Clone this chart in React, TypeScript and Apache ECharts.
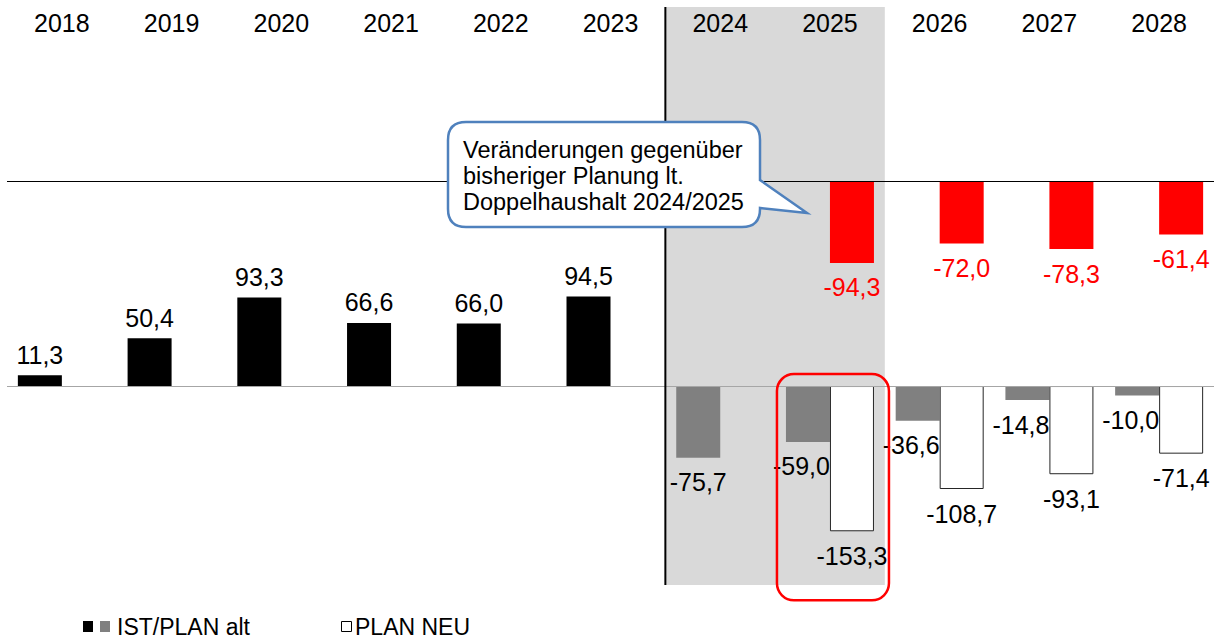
import React, { useEffect, useRef } from "react";
import * as echarts from "echarts";

const years = ["2018", "2019", "2020", "2021", "2022", "2023", "2024", "2025", "2026", "2027", "2028"];
const istPlanAlt = [11.3, 50.4, 93.3, 66.6, 66.0, 94.5, -75.7, -59.0, -36.6, -14.8, -10.0];
const planNeu: (number | null)[] = [null, null, null, null, null, null, null, -153.3, -108.7, -93.1, -71.4];
const veraenderung: (number | null)[] = [null, null, null, null, null, null, null, -94.3, -72.0, -78.3, -61.4];
const firstPlanYear = 6; // index of 2024 (start of planning / shaded period)

const calloutLines = ["Veränderungen gegenüber", "bisheriger Planung lt.", "Doppelhaushalt 2024/2025"];
const legendAlt = "IST/PLAN alt";
const legendNeu = "PLAN NEU";

const FONT = "'Liberation Sans', Arial, sans-serif";
const LABEL_SIZE = 25;
const fmt = (v: number) => v.toFixed(1).replace(".", ",");

const Y0_MIN = -210, Y0_MAX = 400;
const Y1_MIN = -466, Y1_MAX = 201;

const calloutPath =
  "M466,122 H742 Q760,122 760,140 V180 L807,213 L760,208 V209 Q760,227 742,227 H466 Q448,227 448,209 V140 Q448,122 466,122 Z";
echarts.graphic.registerShape("callout", echarts.graphic.extendPath(calloutPath, {}) as any);

export default function App() {
  const ref = useRef<HTMLDivElement>(null);
  useEffect(() => {
    if (!ref.current) return;
    const chart = echarts.init(ref.current, null, { renderer: "svg" });

    const altData = istPlanAlt.map((v, i) => {
      const isPlan = i >= firstPlanYear;
      const hasNeu = planNeu[i] != null;
      return {
        value: v,
        itemStyle: { color: isPlan ? "#808080" : "#000000" },
        label: isPlan
          ? hasNeu
            ? { position: "bottom", distance: 12, align: "right", offset: [22, 0] }
            : { position: "bottom", distance: 12 }
          : { position: "top", distance: 8 },
      };
    });

    const option: any = {
      animation: false,
      textStyle: { fontFamily: FONT },
      grid: { left: 7, right: 6, top: 7, bottom: 54, containLabel: false },
      xAxis: [
        {
          type: "category",
          data: years,
          position: "top",
          axisLine: { show: false },
          axisTick: { show: false },
          axisLabel: { inside: true, margin: 3, color: "#000", fontSize: 25, fontWeight: "normal", fontFamily: FONT },
          splitLine: { show: false },
        },
        { type: "category", data: years, position: "bottom", show: false },
      ],
      yAxis: [
        { type: "value", min: Y0_MIN, max: Y0_MAX, show: false, splitLine: { show: false } },
        { type: "value", min: Y1_MIN, max: Y1_MAX, show: false, splitLine: { show: false } },
      ],
      series: [
        {
          name: legendAlt,
          type: "bar",
          xAxisIndex: 0,
          yAxisIndex: 0,
          barWidth: 44,
          barGap: "0%",
          data: altData,
          label: { show: true, color: "#000", fontSize: LABEL_SIZE, fontFamily: FONT, formatter: (p: any) => fmt(p.value) },
          markLine: {
            silent: true,
            symbol: ["none", "none"],
            label: { show: false },
            lineStyle: { color: "#a6a6a6", width: 1, type: "solid" },
            data: [{ yAxis: 0 }],
          },
        },
        {
          name: legendNeu,
          type: "bar",
          xAxisIndex: 0,
          yAxisIndex: 0,
          barWidth: 44,
          barGap: "0%",
          data: planNeu.map((v) => (v == null ? "-" : v)),
          itemStyle: { color: "#ffffff", borderColor: "#262626", borderWidth: 1 },
          label: {
            show: true,
            position: "bottom",
            distance: 12,
            color: "#000",
            fontSize: LABEL_SIZE,
            fontFamily: FONT,
            formatter: (p: any) => fmt(p.value),
          },
        },
        {
          name: "slot",
          type: "bar",
          xAxisIndex: 1,
          yAxisIndex: 1,
          barWidth: 44,
          barGap: "0%",
          data: years.map(() => "-"),
        },
        {
          name: "Veränderung",
          type: "bar",
          xAxisIndex: 1,
          yAxisIndex: 1,
          barWidth: 44,
          barGap: "0%",
          data: veraenderung.map((v) => (v == null ? "-" : v)),
          itemStyle: { color: "#ff0000" },
          label: {
            show: true,
            position: "bottom",
            distance: 12,
            color: "#ff0000",
            fontSize: LABEL_SIZE,
            fontFamily: FONT,
            formatter: (p: any) => fmt(p.value),
          },
          markLine: {
            silent: true,
            symbol: ["none", "none"],
            label: { show: false },
            lineStyle: { color: "#000000", width: 1, type: "solid" },
            data: [{ yAxis: 0 }],
          },
        },
      ],
    };
    chart.setOption(option);

    const cx = (c: string) => chart.convertToPixel({ xAxisIndex: 0 }, c) as number;
    const cy = (v: number) => chart.convertToPixel({ yAxisIndex: 0 }, v) as number;
    const xA = cx(years[firstPlanYear]);
    const xB = cx(years[firstPlanYear + 1]);
    const bw = xB - xA;
    const shadeLeft = xA - bw / 2;
    const shadeRight = xB + bw / 2;
    const yTop = cy(Y0_MAX);
    const yBot = cy(Y0_MIN);
    const yZero = cy(0);
    const yNeu25 = cy(planNeu[firstPlanYear + 1] as number);

    chart.setOption({
      graphic: [
        {
          type: "rect",
          z: -1,
          shape: { x: shadeLeft, y: yTop, width: shadeRight - shadeLeft, height: yBot - yTop },
          style: { fill: "#d9d9d9" },
          silent: true,
        },
        {
          type: "line",
          z: 50,
          shape: { x1: shadeLeft, y1: yTop, x2: shadeLeft, y2: yBot },
          style: { stroke: "#000", lineWidth: 2 },
          silent: true,
        },
        {
          type: "rect",
          z: 100,
          shape: { x: xB - 53, y: yZero - 12, width: 112, height: yNeu25 + 69 - (yZero - 12), r: 17 },
          style: { fill: "none", stroke: "#ff0000", lineWidth: 2.5 },
          silent: true,
        },
        {
          type: "callout",
          z: 100,
          x: 0,
          y: 0,
          scaleX: 1,
          scaleY: 1,
          style: { fill: "#ffffff", stroke: "#4f81bd", lineWidth: 2.5 },
          silent: true,
        },
        {
          type: "text",
          z: 101,
          x: 463,
          y: 137,
          style: {
            text: calloutLines.join("\n"),
            fill: "#000",
            font: `23.5px ${FONT}`,
            lineHeight: 26,
            align: "left",
            verticalAlign: "top",
          },
          silent: true,
        },
        { type: "rect", z: 100, shape: { x: 83, y: 621, width: 10, height: 11 }, style: { fill: "#000" } },
        { type: "rect", z: 100, shape: { x: 100, y: 621, width: 10, height: 11 }, style: { fill: "#808080" } },
        {
          type: "text",
          z: 100,
          x: 117,
          y: 627,
          style: { text: legendAlt, fill: "#000", font: `23px ${FONT}`, verticalAlign: "middle", align: "left" },
        },
        {
          type: "rect",
          z: 100,
          shape: { x: 341.5, y: 621.5, width: 10, height: 10 },
          style: { fill: "#fff", stroke: "#000", lineWidth: 1 },
        },
        {
          type: "text",
          z: 100,
          x: 355,
          y: 627,
          style: { text: legendNeu, fill: "#000", font: `23px ${FONT}`, verticalAlign: "middle", align: "left" },
        },
      ],
    });

    return () => chart.dispose();
  }, []);

  return (
    <div
      ref={ref}
      style={{ position: "absolute", left: 0, top: 0, width: 1220, height: 639, background: "#fff" }}
    />
  );
}
